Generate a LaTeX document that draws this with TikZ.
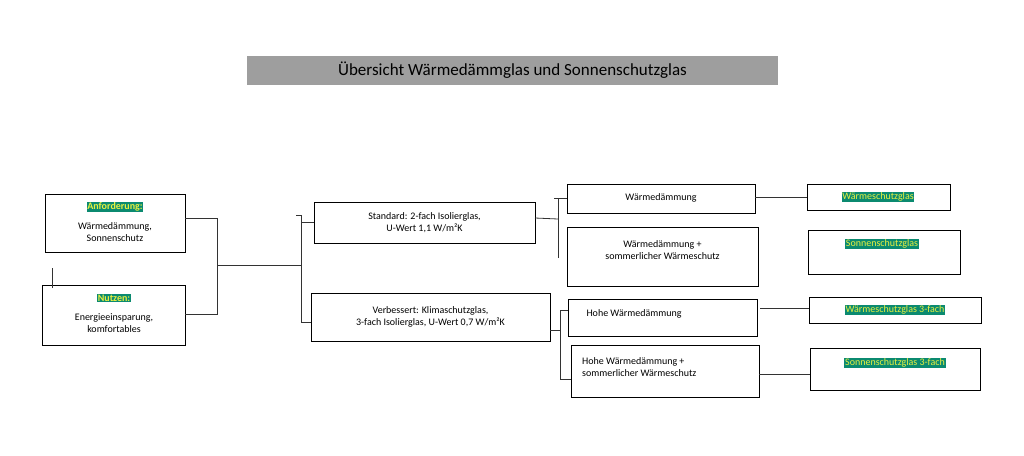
\documentclass[tikz,border=0pt]{standalone}
\usepackage{fontspec}
\setmainfont{Carlito}
\definecolor{hl}{HTML}{0B8A70}
\definecolor{hy}{HTML}{E8F040}
\definecolor{ln}{HTML}{333333}
\begin{document}
\begin{tikzpicture}[x=1pt,y=-1pt,
  box/.style={draw=black,line width=0.8pt,minimum width=#1,inner sep=0pt},
  bx/.style={draw=black,line width=0.8pt},
  tx/.style={font=\fontsize{10}{12.5}\selectfont,align=center,inner sep=0pt},
  hl/.style={fill=hl,text=hy,inner sep=0.8pt,font=\fontsize{10}{12}\selectfont},
  con/.style={draw=ln,line width=0.8pt}]
\useasboundingbox (0,0) rectangle (1024,455);
\node[fill=black!38,inner sep=1pt,font=\fontsize{17}{20}\selectfont,minimum width=531,minimum height=29] (title) at (512.5,70) {Übersicht Wärmedämmglas und Sonnenschutzglas};
% boxes
\draw[bx] (45,194) rectangle (185,252); \coordinate (Ar) at (185,218);
\node[hl] (Ah) at (115,207) {\textbf{Anforderung:}};
\node[tx] (At) at (115,232) {Wärmedämmung,\\Sonnenschutz};
\draw[bx] (42,285) rectangle (185,345); \coordinate (Nr) at (185,314); \coordinate (Nt) at (52,288);
\node[hl] (Nh) at (114,298) {\textbf{Nutzen:}};
\node[tx] (Nt2) at (114,323) {Energieeinsparung,\\komfortables};
\draw[bx] (314,202) rectangle (535,243);
\node[tx] (S) at (424.5,222.5) {Standard: 2-fach Isolierglas,\\U-Wert 1,1 W/m²K};
\draw[bx] (311,293) rectangle (550,341);
\node[tx] (V) at (430.5,317) {Verbessert: Klimaschutzglas,\\3-fach Isolierglas, U-Wert 0,7 W/m²K};
\draw[bx] (567,184) rectangle (755,213);
\node[tx] (W1) at (661,198) {Wärmedämmung};
\draw[bx] (567,227) rectangle (758,286);
\node[tx] (W2) at (662.5,250) {Wärmedämmung +\\sommerlicher Wärmeschutz};
\draw[bx] (568,299) rectangle (757,336);
\node[tx] (H1) at (634,314) {Hohe Wärmedämmung};
\draw[bx] (571,345) rectangle (759,397);
\node[tx,align=left,anchor=west] (H2) at (582,367) {Hohe Wärmedämmung +\\sommerlicher Wärmeschutz};
\draw[bx] (807,184) rectangle (950,210);
\node[hl] (R1) at (878,197) {Wärmeschutzglas};
\draw[bx] (808,230) rectangle (960,274);
\node[hl] (R2) at (882,244) {Sonnenschutzglas};
\draw[bx] (809,297) rectangle (981,323);
\node[hl] (R3) at (895,310) {Wärmeschutzglas 3-fach};
\draw[bx] (810,348) rectangle (980,390);
\node[hl] (R4) at (895,363) {Sonnenschutzglas 3-fach};
% connectors
\draw[con] (Ar) -- (217,218) -- (217,314) -- (Nr);
\draw[con] (217,265) -- (301,265);
\draw[con] (301,215) -- (301,322) -- (311,322);
\draw[con] (296,215) -- (301,215);
\draw[con] (301,222) -- (314,222);
\draw[con] (Nt) -- (52,268);
\draw[con] (535,218) -- (558,219);
\draw[con] (558,258) -- (558,198) -- (567,198);
\draw[con] (554,198) -- (558,198);
\draw[con] (755,197) -- (807,197);
\draw[con] (550,330) -- (560,330);
\draw[con] (560,310) -- (560,379) -- (571,379);
\draw[con] (560,310) -- (568,310);
\draw[con] (760,308) -- (809,308);
\draw[con] (759,374) -- (810,374);
\end{tikzpicture}
\end{document}
